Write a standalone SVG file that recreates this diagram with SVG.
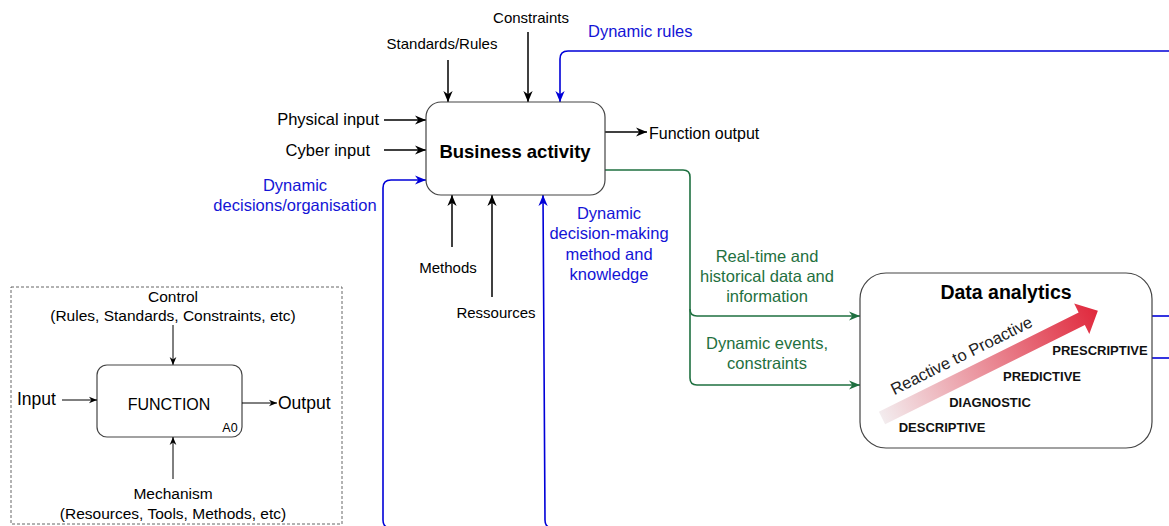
<svg xmlns="http://www.w3.org/2000/svg" width="1169" height="526" viewBox="0 0 1169 526">
<style>
text{font-family:"Liberation Sans",Arial,sans-serif;}
.lbl{font-size:15px;fill:#000;}
.big{font-size:16.5px;fill:#000;}
.blue{font-size:16.5px;fill:#1414d6;}
.green{font-size:16.5px;fill:#1f7040;}
.lvl{font-size:13px;font-weight:bold;fill:#111;text-anchor:middle;}
.mid{text-anchor:middle;}
.box{fill:#fff;stroke:#444;stroke-width:1.2;}
.k{fill:none;stroke:#000;stroke-width:1.5;}
.b{fill:none;stroke:#0000d8;stroke-width:1.6;}
.g{fill:none;stroke:#1f7040;stroke-width:1.6;}
.lk{fill:none;stroke:#000;stroke-width:1;}
</style>
<defs>
<marker id="ak" viewBox="0 0 10 10" refX="10" refY="5" markerWidth="11" markerHeight="11" markerUnits="userSpaceOnUse" orient="auto"><path d="M0,0.8 L10,5 L0,9.2 L3,5 z" fill="#000"/></marker>
<marker id="ab" viewBox="0 0 10 10" refX="10" refY="5" markerWidth="11" markerHeight="11" markerUnits="userSpaceOnUse" orient="auto"><path d="M0,0.8 L10,5 L0,9.2 L3,5 z" fill="#0000d8"/></marker>
<marker id="ag" viewBox="0 0 10 10" refX="10" refY="5" markerWidth="11" markerHeight="11" markerUnits="userSpaceOnUse" orient="auto"><path d="M0,0.8 L10,5 L0,9.2 L3,5 z" fill="#1f7040"/></marker>
<marker id="as" viewBox="0 0 10 10" refX="10" refY="5" markerWidth="8" markerHeight="8" markerUnits="userSpaceOnUse" orient="auto"><path d="M0,0.8 L10,5 L0,9.2 L3,5 z" fill="#000"/></marker>
<linearGradient id="grad" x1="0" y1="0" x2="1" y2="0">
<stop offset="0" stop-color="#f3ecee"/>
<stop offset="1" stop-color="#e0283c"/>
</linearGradient>
</defs>

<g id="connectors">
<path class="k" d="M448,60 V102" marker-end="url(#ak)"/>
<path class="k" d="M528,32 V102" marker-end="url(#ak)"/>
<path class="k" d="M384,120 H426" marker-end="url(#ak)"/>
<path class="k" d="M384,150 H426" marker-end="url(#ak)"/>
<path class="k" d="M605,132 H647" marker-end="url(#ak)"/>
<path class="k" d="M452,247 V195" marker-end="url(#ak)"/>
<path class="k" d="M492,297 V195" marker-end="url(#ak)"/>
<path class="b" d="M1170,51 H568 Q560,51 560,59 V102" marker-end="url(#ab)"/>
<path class="b" d="M400,528 H391 Q383,528 383,520 V188 Q383,180 391,180 H426" marker-end="url(#ab)"/>
<path class="b" d="M562,528 H553 Q545,528 545,520 L543,195" marker-end="url(#ab)"/>
<path class="b" d="M1152,316 H1170"/>
<path class="b" d="M1152,358 H1170"/>
<path class="g" d="M605,170 H683 Q690,170 690,177 V378 Q690,385 697,385 H860" marker-end="url(#ag)"/>
<path class="g" d="M690,309 Q690,316 697,316 H860" marker-end="url(#ag)"/>
</g>

<g id="business-activity">
<rect class="box" x="426" y="102" width="179" height="93" rx="15"/>
<text x="515" y="158" class="mid" style="font-size:18.5px;font-weight:bold;">Business activity</text>
</g>

<g id="labels">
<text x="531" y="23" class="lbl mid">Constraints</text>
<text x="442" y="49" class="lbl mid">Standards/Rules</text>
<text x="588" y="37" class="blue">Dynamic rules</text>
<text x="379" y="125" class="big" text-anchor="end">Physical input</text>
<text x="370" y="156" class="big" text-anchor="end">Cyber input</text>
<text x="649" y="139" class="big" style="font-size:16px;">Function output</text>
<text x="295" y="191" class="blue mid">Dynamic</text>
<text x="295" y="211" class="blue mid">decisions/organisation</text>
<text x="448" y="273" class="lbl mid">Methods</text>
<text x="496" y="318" class="lbl mid">Ressources</text>
<text x="609" y="219" class="blue mid">Dynamic</text>
<text x="609" y="239" class="blue mid">decision-making</text>
<text x="609" y="260" class="blue mid">method and</text>
<text x="609" y="280" class="blue mid">knowledge</text>
<text x="767" y="262" class="green mid">Real-time and</text>
<text x="767" y="282" class="green mid">historical data and</text>
<text x="767" y="302" class="green mid">information</text>
<text x="767" y="349" class="green mid">Dynamic events,</text>
<text x="767" y="369" class="green mid">constraints</text>
</g>

<g id="data-analytics">
<rect class="box" x="860" y="273" width="292" height="175" rx="26"/>
<text x="1006" y="299" class="mid" style="font-size:19.5px;font-weight:bold;">Data analytics</text>
<g transform="translate(882,418) rotate(-26.4)">
<polygon points="0,-7 223,-7 223,-17 241,0 223,17 223,7 0,7" fill="url(#grad)"/>
<text x="99" y="-15" class="mid" style="font-size:16.5px;fill:#222;">Reactive to Proactive</text>
</g>
<text x="1100" y="355" class="lvl">PRESCRIPTIVE</text>
<text x="1042" y="381" class="lvl">PREDICTIVE</text>
<text x="990" y="407" class="lvl">DIAGNOSTIC</text>
<text x="942" y="432" class="lvl">DESCRIPTIVE</text>
</g>

<g id="idef0-legend">
<rect x="11" y="287" width="331" height="237" fill="none" stroke="#666" stroke-width="1" stroke-dasharray="3,2"/>
<text x="173" y="302" class="mid" style="font-size:15.5px;">Control</text>
<text x="173" y="321" class="mid" style="font-size:15.5px;">(Rules, Standards, Constraints, etc)</text>
<path class="lk" d="M173,325 V365" marker-end="url(#as)"/>
<rect class="box" x="97" y="365" width="145" height="72" rx="10"/>
<text x="169" y="410" class="mid" style="font-size:16px;">FUNCTION</text>
<text x="230" y="432" class="mid" style="font-size:12.5px;">A0</text>
<text x="17" y="405" style="font-size:17.5px;">Input</text>
<path class="lk" d="M62,400 H97" marker-end="url(#as)"/>
<path class="lk" d="M242,403 H277" marker-end="url(#as)"/>
<text x="278" y="409" style="font-size:17.5px;">Output</text>
<path class="lk" d="M173,479 V437" marker-end="url(#as)"/>
<text x="173" y="499" class="mid" style="font-size:15.5px;">Mechanism</text>
<text x="173" y="519" class="mid" style="font-size:15.5px;">(Resources, Tools, Methods, etc)</text>
</g>
</svg>
